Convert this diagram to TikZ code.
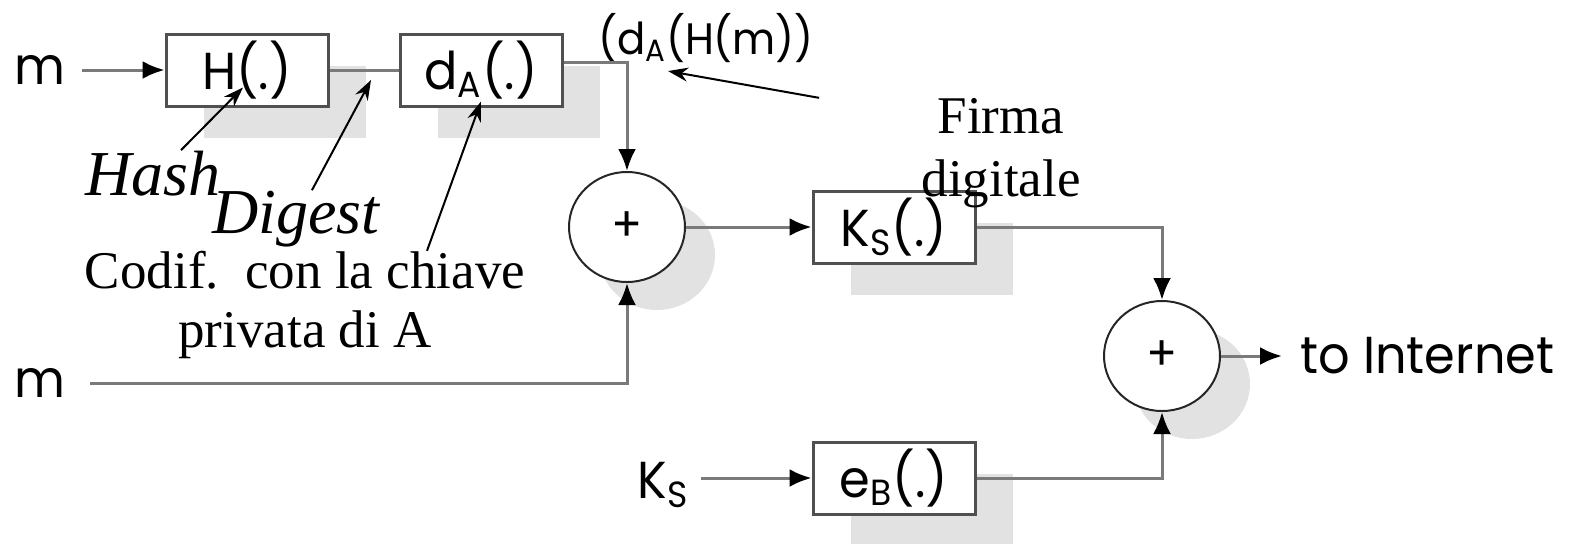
\documentclass[tikz,border=0pt]{standalone}
\usepackage{fontspec}
\setmainfont{Liberation Serif}
\newfontfamily\blockfont[FakeStretch=0.95]{Poppins}
\usetikzlibrary{shapes.geometric, shadows, arrows.meta}
\definecolor{WireGray}{HTML}{7A7A7A}
\definecolor{EdgeGray}{HTML}{505050}
\definecolor{ShadeGray}{HTML}{E2E2E2}
\tikzset{
  blockbox/.style={rectangle, draw=EdgeGray, line width=1.5pt, fill=white,
                minimum width=81pt, minimum height=36pt, inner sep=0pt,
                font=\blockfont\fontsize{26}{28}\selectfont,
                drop shadow={shadow xshift=19pt, shadow yshift=-16pt, fill=ShadeGray, opacity=1}},
  sumnode/.style={ellipse, draw=black!85, line width=1pt, fill=white,
                minimum width=58pt, minimum height=55pt, inner sep=0pt,
                font=\blockfont\fontsize{24}{26}\selectfont,
                drop shadow={shadow xshift=15pt, shadow yshift=-14pt, fill=ShadeGray, opacity=1}},
  wire/.style={draw=WireGray, line width=1.5pt},
  flowarrow/.style={wire, -{Latex[length=11pt, width=9pt, color=black]}},
  notearrow/.style={-{Stealth[length=10pt, width=7pt]}, line width=1pt, black},
  sanslabel/.style={font=\blockfont\fontsize{26}{28}\selectfont, inner sep=0pt},
  notetext/.style={font=\fontsize{26.5}{30}\selectfont, inner sep=0pt, align=center},
  noteital/.style={font=\fontsize{32}{36}\selectfont\itshape, inner sep=0pt},
}

\begin{document}
\begin{tikzpicture}[x=0.5pt, y=-0.5pt]
    % Coordinate map (pixels, y down):
    % (H)    at (247, 70)  -- "H(.)"
    % (dA)   at (481, 70)  -- "d_A(.)"
    % (sumA) at (627, 227) -- first sum
    % (KS)   at (894, 227) -- "K_S(.)"
    % (eB)   at (894, 478) -- "e_B(.)"
    % (sumB) at (1162, 356) -- second sum
    \useasboundingbox (0,0) rectangle (1570,543);

    \node[blockbox] (H) at (247, 70) {H(.)};
    \node[blockbox] (dA) at (481, 70) {d\textsubscript{A}(.)};
    \node[sumnode] (sumA) at (627, 227) {+};
    \node[blockbox] (KS) at (894, 227) {K\textsubscript{S}(.)};
    \node[blockbox] (eB) at (894, 478) {e\textsubscript{B}(.)};
    \node[sumnode] (sumB) at (1162, 356) {+};

    \node[sanslabel] (mtop) at (40, 70) {m};
    \node[sanslabel] (mbot) at (40, 383) {m};
    \node[sanslabel] (ksin) at (663, 485) {K\textsubscript{S}};
    \node[sanslabel, anchor=west] (net) at (1300, 356) {to Internet};
    \node[sanslabel, font=\blockfont\fontsize{22}{24}\selectfont] (sig) at (706, 38) {(d\textsubscript{A}(H(m))};

    \draw[flowarrow, shorten <=8pt] (mtop.east) -- (H.west);
    \draw[wire] (H.east) -- (dA.west);
    \draw[flowarrow] ([yshift=4pt]dA.east) -| (sumA.north);
    \draw[flowarrow, shorten <=12pt] (mbot.east) -| (sumA.south);
    \draw[flowarrow] (sumA.east) -- (KS.west);
    \draw[flowarrow] (KS.east) -| (sumB.north);
    \draw[flowarrow, shorten <=6pt] (ksin.east |- eB.west) -- (eB.west);
    \draw[flowarrow] (eB.east) -| (sumB.south);
    \draw[flowarrow, shorten >=9pt] (sumB.east) -- (net.west);

    % annotations
    \node[noteital, anchor=base west] (hash) at (85, 195) {Hash};
    \node[noteital, anchor=base west] (digest) at (212, 233) {Digest};
    \node[notetext, font=\fontsize{26.5}{29.5}\selectfont] (codif) at (305, 305) {Codif.\ \ con la chiave\\privata di A};
    \node[notetext, font=\fontsize{26.5}{31.5}\selectfont] (firma) at (1001, 153) {Firma\\digitale};
    \coordinate (digestpt) at (371, 80);

    \draw[notearrow] ([xshift=14pt]hash.north) -- ([xshift=-2pt, yshift=10pt]H.south);
    \draw[notearrow] ([xshift=8pt]digest.north) -- (digestpt);
    \draw[notearrow] ([xshift=61pt]codif.north) -- ([yshift=3pt]dA.south);
    \draw[notearrow] ([xshift=-51pt]firma.north west) -- ([xshift=-19pt, yshift=-4pt]sig.south);
\end{tikzpicture}
\end{document}
